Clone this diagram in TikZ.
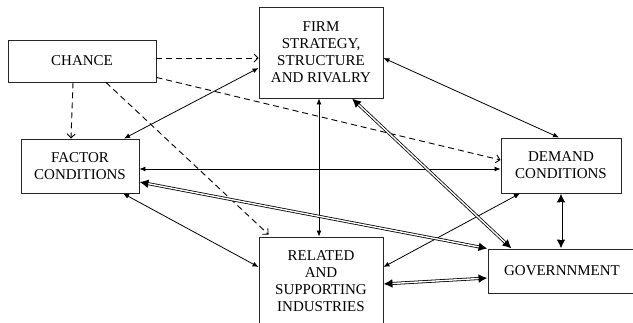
\documentclass[tikz,border=0pt]{standalone}
\usepackage{fontspec}
\setmainfont{Liberation Serif}
\usetikzlibrary{arrows.meta}
\tikzstyle{factor}=[draw=black!85, line width=0.9pt, fill=white, align=center,
  inner sep=0pt, font=\fontsize{15}{17}\selectfont]
\tikzstyle{line} = [draw, line width=0.8pt, {Latex[length=6pt,width=5pt]}-{Latex[length=6pt,width=5pt]}]
\tikzstyle{linepart} = [draw, line width=0.9pt, dash pattern=on 6pt off 4pt,
  -{Straight Barb[length=4pt,width=8pt]}]
\tikzstyle{linedouble} = [draw, line width=3pt,
  {Latex[length=9pt,width=9pt]}-{Latex[length=9pt,width=9pt]},
  postaction={draw=white, line width=1.4pt, shorten <=9pt, shorten >=9pt, arrows=-}]
\begin{document}
\begin{tikzpicture}[x=1pt,y=-1pt]
  \useasboundingbox (0,0) rectangle (633,322);

  % the six determinants
  \path (82,61) node (CHANCE) [factor, minimum width=148pt, minimum height=42pt] {CHANCE};
  \path (321,52.5) node (FIRM) [factor, minimum width=124pt, minimum height=91pt]
    {FIRM\\ STRATEGY,\\ STRUCTURE\\ AND RIVALRY};
  \path (80,166) node (FACTOR) [factor, minimum width=118pt, minimum height=54pt]
    {FACTOR\\ CONDITIONS};
  \path (561,165.5) node (DEMAND) [factor, minimum width=120pt, minimum height=55pt]
    {DEMAND\\ CONDITIONS};
  \path (321,281) node (RELATED) [factor, minimum width=124pt, minimum height=88pt]
    {RELATED\\ AND\\ SUPPORTING\\ INDUSTRIES};
  \path (562,271) node (GOVERNMENT) [factor, minimum width=148pt, minimum height=44pt]
    {GOVERNNMENT};

  % chance
  \path [linepart] ([yshift=3pt]CHANCE.east) -- ([yshift=-5.5pt]FIRM.west);
  \path [linepart] ([xshift=-9pt]CHANCE.south) -- ([xshift=-9pt]FACTOR.north);
  \path [linepart] ([yshift=5pt]CHANCE.south east) -- ([yshift=5.5pt]DEMAND.west);
  \path [linepart] ([xshift=24pt]CHANCE.south) -- ([xshift=10pt,yshift=2pt]RELATED.north west);

  % single links
  \path [line] ([xshift=44pt]FACTOR.north) -- ([yshift=-15.5pt]FIRM.west);
  \path [line] ([yshift=-5.5pt]FIRM.east) -- ([xshift=-2pt]DEMAND.north);
  \path [line] ([xshift=-2pt]FIRM.south) -- ([xshift=-2pt]RELATED.north);
  \path [line] ([yshift=-3pt]FACTOR.east) -- ([yshift=-3.5pt]DEMAND.west);
  \path [line] ([xshift=43pt]FACTOR.south) -- ([yshift=14pt]RELATED.west);
  \path [line] ([xshift=-41pt]DEMAND.south) -- ([yshift=14pt]RELATED.east);

  % government links
  \path [linedouble] ([xshift=31pt]FIRM.south) -- ([xshift=24pt]GOVERNMENT.north west);
  \path [linedouble] ([yshift=-16pt]FACTOR.east) -- (GOVERNMENT.north west);
  \path [linedouble] (DEMAND.south) -- (DEMAND.south |- GOVERNMENT.north);
  \path [linedouble] ([yshift=-3pt]RELATED.east) -- ([yshift=-7pt]GOVERNMENT.west);
\end{tikzpicture}
\end{document}
